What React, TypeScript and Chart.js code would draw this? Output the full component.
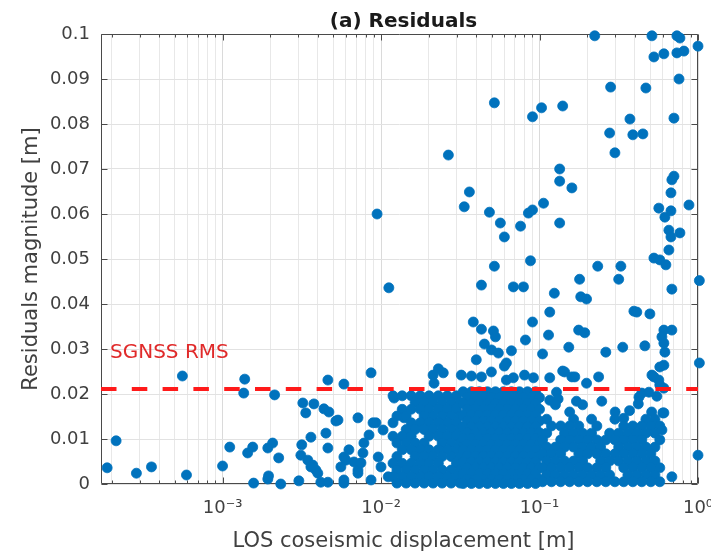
import React, { useEffect, useRef } from 'react';
import { Chart, registerables } from 'chart.js';

Chart.register(...registerables);

const FONT = "'DejaVu Sans', sans-serif";

const xMin = 1.71e-4;
const xMax = 1;
const yMin = 0;
const yMax = 0.1;
const rmsLevel = 0.0211;
const rmsLabel = 'SGNSS RMS';
const titleText = '(a) Residuals';
const xTitle = 'LOS coseismic displacement [m]';
const yTitle = 'Residuals magnitude [m]';

const xMajorTicks = [1e-3, 1e-2, 1e-1, 1];
const xMajorLabels = ['10⁻³', '10⁻²', '10⁻¹', '10⁰'];
const xMinorTicks = [
  2e-4, 3e-4, 4e-4, 5e-4, 6e-4, 7e-4, 8e-4, 9e-4,
  2e-3, 3e-3, 4e-3, 5e-3, 6e-3, 7e-3, 8e-3, 9e-3,
  2e-2, 3e-2, 4e-2, 5e-2, 6e-2, 7e-2, 8e-2, 9e-2,
  2e-1, 3e-1, 4e-1, 5e-1, 6e-1, 7e-1, 8e-1, 9e-1,
];
const yTickValues = [0, 0.01, 0.02, 0.03, 0.04, 0.05, 0.06, 0.07, 0.08, 0.09, 0.1];

// residuals above ~0.03 m
const upperPoints: number[][] = [
  [0.223, 0.0996], [0.512, 0.0996], [0.736, 0.0996], [0.769, 0.0991], [1.0, 0.0973],
  [0.527, 0.0949], [0.609, 0.0956], [0.736, 0.0958], [0.815, 0.0962],
  [0.759, 0.09], [0.281, 0.0882], [0.469, 0.088],
  [0.0519, 0.0847], [0.0903, 0.0816], [0.103, 0.0836], [0.14, 0.084],
  [0.372, 0.0811], [0.705, 0.0813],
  [0.277, 0.078], [0.388, 0.0776], [0.449, 0.0778],
  [0.299, 0.0736], [0.0266, 0.0731],
  [0.134, 0.07], [0.134, 0.0673], [0.16, 0.0658],
  [0.705, 0.0684], [0.684, 0.0676], [0.675, 0.0647],
  [0.0361, 0.0649], [0.0335, 0.0616], [0.0483, 0.0604], [0.0566, 0.058], [0.06, 0.0549],
  [0.0759, 0.0573], [0.0851, 0.0602], [0.0903, 0.0609], [0.106, 0.0624], [0.134, 0.058],
  [0.00944, 0.06],
  [0.566, 0.0613], [0.618, 0.0593], [0.675, 0.0607], [0.877, 0.062],
  [0.655, 0.0564], [0.675, 0.0549], [0.769, 0.0558], [0.655, 0.052],
  [0.527, 0.0502], [0.574, 0.0498], [0.627, 0.0487],
  [0.0519, 0.0484], [0.0877, 0.0496], [0.233, 0.0484], [0.326, 0.0484],
  [0.179, 0.0455], [0.316, 0.0455], [1.02, 0.0452],
  [0.0112, 0.0436], [0.043, 0.0442], [0.0684, 0.0438], [0.0792, 0.0438],
  [0.124, 0.0424], [0.182, 0.0416], [0.198, 0.0411], [0.684, 0.0433],
  [0.116, 0.0382], [0.394, 0.0384], [0.411, 0.0382], [0.497, 0.0378],
  [0.0903, 0.036], [0.0382, 0.036], [0.043, 0.0344], [0.0512, 0.034], [0.0527, 0.0327],
  [0.1766, 0.0342], [0.193, 0.0336], [0.609, 0.0342], [0.684, 0.0342],
  [0.592, 0.0327], [0.609, 0.0313], [0.618, 0.0293],
  [0.114, 0.0331], [0.0815, 0.032],
  [0.0449, 0.0311], [0.0497, 0.0298], [0.055, 0.0291], [0.0665, 0.0296],
  [0.153, 0.0304], [0.262, 0.0293], [0.335, 0.0304], [0.462, 0.0307], [0.1045, 0.0289],
];

// residuals around the RMS line
const midPoints: number[][] = [
  [0.0399, 0.0276], [0.0618, 0.0269], [0.06, 0.0262], [1.02, 0.0269], [0.574, 0.026], [0.609, 0.0264],
  [0.023, 0.0256], [0.0213, 0.0242], [0.0321, 0.0242], [0.0372, 0.024], [0.043, 0.0238], [0.0497, 0.0249],
  [0.0618, 0.0231], [0.0684, 0.0236], [0.0804, 0.0242], [0.0916, 0.0236], [0.116, 0.0236], [0.14, 0.0251],
  [0.16, 0.0238], [0.198, 0.0224], [0.236, 0.0238], [0.00865, 0.0247], [0.527, 0.0238], [0.566, 0.0231],
  [0.0247, 0.0247], [0.0216, 0.0224], [0.00462, 0.0231], [0.00583, 0.0222], [0.144, 0.0249], [0.167, 0.0238],
  [0.574, 0.022], [0.609, 0.0213], [0.512, 0.0242], [0.128, 0.0204],
];

// small displacements (left part)
const leftPoints: number[][] = [
  [1.87e-4, 0.0036], [2.13e-4, 0.0096], [2.86e-4, 0.0024], [3.56e-4, 0.0038], [5.58e-4, 0.024],
  [5.92e-4, 0.002], [1.0e-3, 0.004], [1.11e-3, 0.0082], [1.38e-3, 0.0233], [1.36e-3, 0.0202],
  [1.44e-3, 0.0069], [1.55e-3, 0.0082], [1.57e-3, 0.0002], [1.93e-3, 0.0011], [1.95e-3, 0.0018],
  [1.93e-3, 0.008], [2.07e-3, 0.0091], [2.13e-3, 0.0198], [2.26e-3, 0.0058], [2.33e-3, 0.0],
  [3.03e-3, 0.0007], [3.21e-3, 0.018], [3.77e-3, 0.0178], [3.35e-3, 0.0158], [4.36e-3, 0.0167],
  [4.69e-3, 0.016], [5.35e-3, 0.0142], [3.16e-3, 0.0087], [3.61e-3, 0.0104], [3.12e-3, 0.0064],
  [3.45e-3, 0.0053], [3.71e-3, 0.0042], [3.88e-3, 0.0031], [3.99e-3, 0.0024], [4.49e-3, 0.0113],
  [4.62e-3, 0.008], [4.17e-3, 0.0004], [4.62e-3, 0.0004], [5.83e-3, 0.0002],
  [5.83e-3, 0.006], [6.27e-3, 0.0076], [6.75e-3, 0.0049], [7.15e-3, 0.0031], [7.15e-3, 0.0147],
  [5.19e-3, 0.014], [5.58e-3, 0.0038], [6.0e-3, 0.0053], [7.69e-3, 0.0069], [7.47e-3, 0.0047],
  [8.4e-3, 0.0109], [7.8e-3, 0.0091], [9.29e-3, 0.0136], [0.0103, 0.012], [9.6e-3, 0.006],
  [0.01, 0.0038], [8.65e-3, 0.0009], [7.15e-3, 0.0024], [5.83e-3, 0.0009], [0.0111, 0.0016],
  [0.0121, 0.0191], [0.014, 0.0147], [8.9e-3, 0.0136], [3.61e-3, 0.0038],
];

// cluster 0.012 - 0.032 m
const clusterLeft: number[][] = [
  [0.0119, 0.0196], [0.0136, 0.0196], [0.0155, 0.0196], [0.0177, 0.0196], [0.0201, 0.0196], [0.023, 0.0196], [0.0262, 0.0196], [0.0299, 0.0196],
  [0.0164, 0.0181], [0.0187, 0.0181], [0.0213, 0.0181], [0.0243, 0.0181], [0.0277, 0.0181], [0.0316, 0.0181],
  [0.0136, 0.0166], [0.0155, 0.0166], [0.0177, 0.0166], [0.0201, 0.0166], [0.023, 0.0166], [0.0262, 0.0166], [0.0299, 0.0166],
  [0.0126, 0.0151], [0.0144, 0.0151], [0.0187, 0.0151], [0.0213, 0.0151], [0.0243, 0.0151], [0.0277, 0.0151], [0.0316, 0.0151],
  [0.0119, 0.0136], [0.0155, 0.0136], [0.0177, 0.0136], [0.0201, 0.0136], [0.023, 0.0136], [0.0262, 0.0136], [0.0299, 0.0136],
  [0.0144, 0.0121], [0.0164, 0.0121], [0.0187, 0.0121], [0.0213, 0.0121], [0.0243, 0.0121], [0.0277, 0.0121], [0.0316, 0.0121],
  [0.0119, 0.0106], [0.0136, 0.0106], [0.0155, 0.0106], [0.0201, 0.0106], [0.023, 0.0106], [0.0262, 0.0106], [0.0299, 0.0106],
  [0.0126, 0.0091], [0.0144, 0.0091], [0.0164, 0.0091], [0.0187, 0.0091], [0.0243, 0.0091], [0.0277, 0.0091], [0.0316, 0.0091],
  [0.0136, 0.0076], [0.0155, 0.0076], [0.0177, 0.0076], [0.0201, 0.0076], [0.023, 0.0076], [0.0262, 0.0076], [0.0299, 0.0076],
  [0.0126, 0.0061], [0.0164, 0.0061], [0.0187, 0.0061], [0.0213, 0.0061], [0.0243, 0.0061], [0.0277, 0.0061], [0.0316, 0.0061],
  [0.0119, 0.0046], [0.0136, 0.0046], [0.0155, 0.0046], [0.0177, 0.0046], [0.0201, 0.0046], [0.023, 0.0046], [0.0299, 0.0046],
  [0.0126, 0.0031], [0.0144, 0.0031], [0.0164, 0.0031], [0.0187, 0.0031], [0.0213, 0.0031], [0.0243, 0.0031], [0.0277, 0.0031], [0.0316, 0.0031],
  [0.0119, 0.0016], [0.0136, 0.0016], [0.0155, 0.0016], [0.0177, 0.0016], [0.0201, 0.0016], [0.023, 0.0016], [0.0262, 0.0016], [0.0299, 0.0016],
  [0.0126, 0.0002], [0.0144, 0.0002], [0.0164, 0.0002], [0.0187, 0.0002], [0.0213, 0.0002], [0.0243, 0.0002], [0.0277, 0.0002], [0.0316, 0.0002],
];

// dense core 0.033 - 0.1 m
const coreBlock: number[][] = [
  [0.033, 0.0205], [0.0372, 0.0205], [0.0417, 0.0205], [0.0469, 0.0205], [0.0527, 0.0205], [0.0592, 0.0205], [0.0665, 0.0205], [0.0747, 0.0205], [0.084, 0.0205], [0.0944, 0.0205],
  [0.035, 0.0192], [0.0394, 0.0192], [0.0442, 0.0192], [0.0497, 0.0192], [0.0558, 0.0192], [0.0627, 0.0192], [0.0705, 0.0192], [0.0792, 0.0192], [0.089, 0.0192], [0.1, 0.0192],
  [0.033, 0.0179], [0.0372, 0.0179], [0.0417, 0.0179], [0.0469, 0.0179], [0.0527, 0.0179], [0.0592, 0.0179], [0.0665, 0.0179], [0.0747, 0.0179], [0.084, 0.0179], [0.0944, 0.0179],
  [0.035, 0.0166], [0.0394, 0.0166], [0.0442, 0.0166], [0.0497, 0.0166], [0.0558, 0.0166], [0.0627, 0.0166], [0.0705, 0.0166], [0.0792, 0.0166], [0.089, 0.0166], [0.1, 0.0166],
  [0.033, 0.0153], [0.0372, 0.0153], [0.0417, 0.0153], [0.0469, 0.0153], [0.0527, 0.0153], [0.0592, 0.0153], [0.0665, 0.0153], [0.0747, 0.0153], [0.084, 0.0153], [0.0944, 0.0153],
  [0.035, 0.014], [0.0394, 0.014], [0.0442, 0.014], [0.0497, 0.014], [0.0558, 0.014], [0.0627, 0.014], [0.0705, 0.014], [0.0792, 0.014], [0.089, 0.014], [0.1, 0.014],
  [0.033, 0.0127], [0.0372, 0.0127], [0.0417, 0.0127], [0.0469, 0.0127], [0.0527, 0.0127], [0.0592, 0.0127], [0.0665, 0.0127], [0.0747, 0.0127], [0.084, 0.0127], [0.0944, 0.0127],
  [0.035, 0.0114], [0.0394, 0.0114], [0.0442, 0.0114], [0.0497, 0.0114], [0.0558, 0.0114], [0.0627, 0.0114], [0.0705, 0.0114], [0.0792, 0.0114], [0.089, 0.0114], [0.1, 0.0114],
  [0.033, 0.0101], [0.0372, 0.0101], [0.0417, 0.0101], [0.0469, 0.0101], [0.0527, 0.0101], [0.0592, 0.0101], [0.0665, 0.0101], [0.0747, 0.0101], [0.084, 0.0101], [0.0944, 0.0101],
  [0.035, 0.0088], [0.0394, 0.0088], [0.0442, 0.0088], [0.0497, 0.0088], [0.0558, 0.0088], [0.0627, 0.0088], [0.0705, 0.0088], [0.0792, 0.0088], [0.089, 0.0088], [0.1, 0.0088],
  [0.033, 0.0075], [0.0372, 0.0075], [0.0417, 0.0075], [0.0469, 0.0075], [0.0527, 0.0075], [0.0592, 0.0075], [0.0665, 0.0075], [0.0747, 0.0075], [0.084, 0.0075], [0.0944, 0.0075],
  [0.035, 0.0062], [0.0394, 0.0062], [0.0442, 0.0062], [0.0497, 0.0062], [0.0558, 0.0062], [0.0627, 0.0062], [0.0705, 0.0062], [0.0792, 0.0062], [0.089, 0.0062], [0.1, 0.0062],
  [0.033, 0.0049], [0.0372, 0.0049], [0.0417, 0.0049], [0.0469, 0.0049], [0.0527, 0.0049], [0.0592, 0.0049], [0.0665, 0.0049], [0.0747, 0.0049], [0.084, 0.0049], [0.0944, 0.0049],
  [0.035, 0.0036], [0.0394, 0.0036], [0.0442, 0.0036], [0.0497, 0.0036], [0.0558, 0.0036], [0.0627, 0.0036], [0.0705, 0.0036], [0.0792, 0.0036], [0.089, 0.0036], [0.1, 0.0036],
  [0.033, 0.0023], [0.0372, 0.0023], [0.0417, 0.0023], [0.0469, 0.0023], [0.0527, 0.0023], [0.0592, 0.0023], [0.0665, 0.0023], [0.0747, 0.0023], [0.084, 0.0023], [0.0944, 0.0023],
  [0.035, 0.001], [0.0394, 0.001], [0.0442, 0.001], [0.0497, 0.001], [0.0558, 0.001], [0.0627, 0.001], [0.0705, 0.001], [0.0792, 0.001], [0.089, 0.001], [0.1, 0.001],
  [0.033, 0.0001], [0.0372, 0.0001], [0.0417, 0.0001], [0.0469, 0.0001], [0.0527, 0.0001], [0.0592, 0.0001], [0.0665, 0.0001], [0.0747, 0.0001], [0.084, 0.0001], [0.0944, 0.0001],
];

// cluster 0.1 - 0.6 m
const rightCluster: number[][] = [
  [0.116, 0.0186], [0.131, 0.0189], [0.171, 0.0184], [0.247, 0.0184], [0.424, 0.0193], [0.55, 0.0195], [0.442, 0.0202], [0.49, 0.0204],
  [0.126, 0.0176], [0.187, 0.0176], [0.42, 0.0178],
  [0.155, 0.016], [0.3, 0.016], [0.37, 0.0163], [0.51, 0.016], [0.6, 0.0158],
  [0.111, 0.0144], [0.164, 0.0144], [0.213, 0.0144], [0.299, 0.0144], [0.34, 0.0146], [0.469, 0.0144], [0.535, 0.0144],
  [0.119, 0.0129], [0.136, 0.0129], [0.155, 0.0129], [0.177, 0.0129], [0.23, 0.0129], [0.34, 0.0129], [0.388, 0.0129], [0.442, 0.0129], [0.504, 0.0129], [0.574, 0.0129],
  [0.111, 0.0113], [0.144, 0.0113], [0.164, 0.0113], [0.187, 0.0113], [0.213, 0.0113], [0.277, 0.0113], [0.316, 0.0113], [0.361, 0.0113], [0.411, 0.0113], [0.469, 0.0113], [0.535, 0.0113],
  [0.1045, 0.0098], [0.136, 0.0098], [0.155, 0.0098], [0.177, 0.0098], [0.201, 0.0098], [0.23, 0.0098], [0.262, 0.0098], [0.299, 0.0098], [0.34, 0.0098], [0.388, 0.0098], [0.442, 0.0098], [0.574, 0.0098],
  [0.111, 0.0082], [0.126, 0.0082], [0.144, 0.0082], [0.164, 0.0082], [0.187, 0.0082], [0.213, 0.0082], [0.243, 0.0082], [0.316, 0.0082], [0.361, 0.0082], [0.411, 0.0082], [0.469, 0.0082], [0.535, 0.0082],
  [0.1045, 0.0067], [0.119, 0.0067], [0.136, 0.0067], [0.177, 0.0067], [0.201, 0.0067], [0.23, 0.0067], [0.262, 0.0067], [0.299, 0.0067], [0.34, 0.0067], [0.388, 0.0067], [0.442, 0.0067], [0.504, 0.0067],
  [0.111, 0.0051], [0.126, 0.0051], [0.144, 0.0051], [0.164, 0.0051], [0.187, 0.0051], [0.243, 0.0051], [0.277, 0.0051], [0.316, 0.0051], [0.361, 0.0051], [0.411, 0.0051], [0.469, 0.0051], [0.535, 0.0051],
  [0.1045, 0.0036], [0.119, 0.0036], [0.136, 0.0036], [0.155, 0.0036], [0.177, 0.0036], [0.201, 0.0036], [0.23, 0.0036], [0.262, 0.0036], [0.34, 0.0036], [0.388, 0.0036], [0.442, 0.0036], [0.504, 0.0036], [0.574, 0.0036],
  [0.111, 0.002], [0.126, 0.002], [0.144, 0.002], [0.164, 0.002], [0.187, 0.002], [0.213, 0.002], [0.243, 0.002], [0.277, 0.002], [0.361, 0.002], [0.411, 0.002], [0.469, 0.002], [0.535, 0.002],
  [0.1045, 0.0005], [0.119, 0.0005], [0.136, 0.0005], [0.155, 0.0005], [0.177, 0.0005], [0.201, 0.0005], [0.23, 0.0005], [0.262, 0.0005], [0.299, 0.0005], [0.34, 0.0005], [0.388, 0.0005], [0.442, 0.0005], [0.504, 0.0005], [0.574, 0.0005],
  [0.592, 0.012], [0.609, 0.0158], [0.684, 0.0016], [1.0, 0.0064],
];

const isMajor = (v: number) => xMajorTicks.some((m) => Math.abs(Math.log10(v) - Math.log10(m)) < 1e-6);

const framePlugin = {
  id: 'frame',
  beforeDatasetsDraw(chart: any) {
    const { ctx, chartArea: a, scales } = chart;
    const xs = scales.x;
    const ys = scales.y;
    ctx.save();
    ctx.strokeStyle = '#4a4a4a';
    ctx.lineWidth = 1;
    const L = Math.round(a.left) + 0.5;
    const R = Math.round(a.right) - 0.5;
    const T = Math.round(a.top) + 0.5;
    const B = Math.round(a.bottom) - 0.5;
    ctx.beginPath();
    ctx.moveTo(L, T); ctx.lineTo(R, T); ctx.lineTo(R, B); ctx.lineTo(L, B); ctx.closePath();
    for (const v of yTickValues) {
      const py = Math.round(ys.getPixelForValue(v)) + 0.5;
      ctx.moveTo(L, py); ctx.lineTo(L + 6, py);
      ctx.moveTo(R, py); ctx.lineTo(R - 6, py);
    }
    for (const v of [...xMajorTicks, ...xMinorTicks]) {
      const px = Math.round(xs.getPixelForValue(v)) + 0.5;
      const len = isMajor(v) ? 6 : 3;
      ctx.moveTo(px, B); ctx.lineTo(px, B - len);
      ctx.moveTo(px, T); ctx.lineTo(px, T + len);
    }
    ctx.stroke();
    ctx.restore();
  },
  afterDraw(chart: any) {
    const { ctx, chartArea: a, scales } = chart;
    ctx.save();
    ctx.fillStyle = '#1a1a1a';
    ctx.font = `bold 20px ${FONT}`;
    ctx.textAlign = 'center';
    ctx.textBaseline = 'alphabetic';
    ctx.fillText(titleText, (a.left + a.right) / 2 + 4, 27);
    ctx.fillStyle = '#404040';
    ctx.font = `21px ${FONT}`;
    ctx.fillText(xTitle, (a.left + a.right) / 2 + 4, 547);
    ctx.save();
    ctx.translate(37, (a.top + a.bottom) / 2);
    ctx.rotate(-Math.PI / 2);
    ctx.fillText(yTitle, 0, 0);
    ctx.restore();
    ctx.fillStyle = '#e02a2a';
    ctx.font = `20px ${FONT}`;
    ctx.textAlign = 'left';
    ctx.fillText(rmsLabel, a.left + 9, scales.y.getPixelForValue(rmsLevel) - 31);
    ctx.restore();
  },
};

const toXY = (arr: number[][]) => arr.map(([x, y]) => ({ x, y }));

export default function App() {
  const ref = useRef<HTMLCanvasElement>(null);
  useEffect(() => {
    if (!ref.current) return;
    const allPoints = [...upperPoints, ...midPoints, ...leftPoints, ...clusterLeft, ...coreBlock, ...rightCluster];
    const chart = new Chart(ref.current, {
      type: 'scatter',
      data: {
        datasets: [
          {
            type: 'line',
            label: rmsLabel,
            data: [{ x: xMin, y: rmsLevel }, { x: xMax, y: rmsLevel }],
            borderColor: '#ff1a1a',
            borderWidth: 4,
            borderDash: [15.5, 15.3],
            borderCapStyle: 'butt',
            pointRadius: 0,
            showLine: true,
            fill: false,
            order: 0,
          } as any,
          {
            label: 'Residuals',
            data: toXY(allPoints),
            backgroundColor: '#0072BD',
            borderColor: '#0072BD',
            borderWidth: 0.8,
            pointRadius: 5,
            clip: false,
            order: 1,
          } as any,
        ],
      },
      options: {
        responsive: false,
        animation: false,
        events: [],
        layout: { padding: { top: 34, right: 13, left: 0, bottom: 0 } },
        plugins: {
          legend: { display: false },
          tooltip: { enabled: false },
          title: { display: false },
        },
        scales: {
          x: {
            type: 'logarithmic',
            min: xMin,
            max: xMax,
            afterFit: (s: any) => { s.height = 68; s.paddingLeft = 0; s.paddingRight = 0; },
            afterBuildTicks: (s: any) => {
              s.ticks = [...xMinorTicks, ...xMajorTicks].sort((p, q) => p - q).map((v) => ({ value: v, major: isMajor(v) }));
            },
            border: { display: false },
            grid: {
              drawTicks: false,
              color: (c: any) => (c.tick && isMajor(c.tick.value) ? '#dadada' : '#e8e8e8'),
              lineWidth: 1,
            },
            ticks: {
              autoSkip: false,
              maxRotation: 0,
              padding: 14,
              color: '#404040',
              font: { family: FONT, size: 18 },
              callback: (v: any) => {
                const i = xMajorTicks.findIndex((m) => Math.abs(Math.log10(Number(v)) - Math.log10(m)) < 1e-6);
                return i >= 0 ? xMajorLabels[i] : '';
              },
            },
          },
          y: {
            type: 'linear',
            min: yMin,
            max: yMax,
            afterFit: (s: any) => { s.width = 101; s.paddingTop = 0; s.paddingBottom = 0; },
            afterBuildTicks: (s: any) => { s.ticks = yTickValues.map((v) => ({ value: v })); },
            border: { display: false },
            grid: { drawTicks: false, color: '#e2e2e2', lineWidth: 1 },
            ticks: {
              padding: 11,
              color: '#404040',
              font: { family: FONT, size: 18 },
              callback: (v: any) => parseFloat(Number(v).toFixed(2)).toString(),
            },
          },
        },
      },
      plugins: [framePlugin],
    } as any);
    return () => chart.destroy();
  }, []);
  return (
    <canvas
      ref={ref}
      width={711}
      height={552}
      style={{ position: 'fixed', left: 0, top: 0, width: 711, height: 552, background: '#ffffff' }}
    />
  );
}
